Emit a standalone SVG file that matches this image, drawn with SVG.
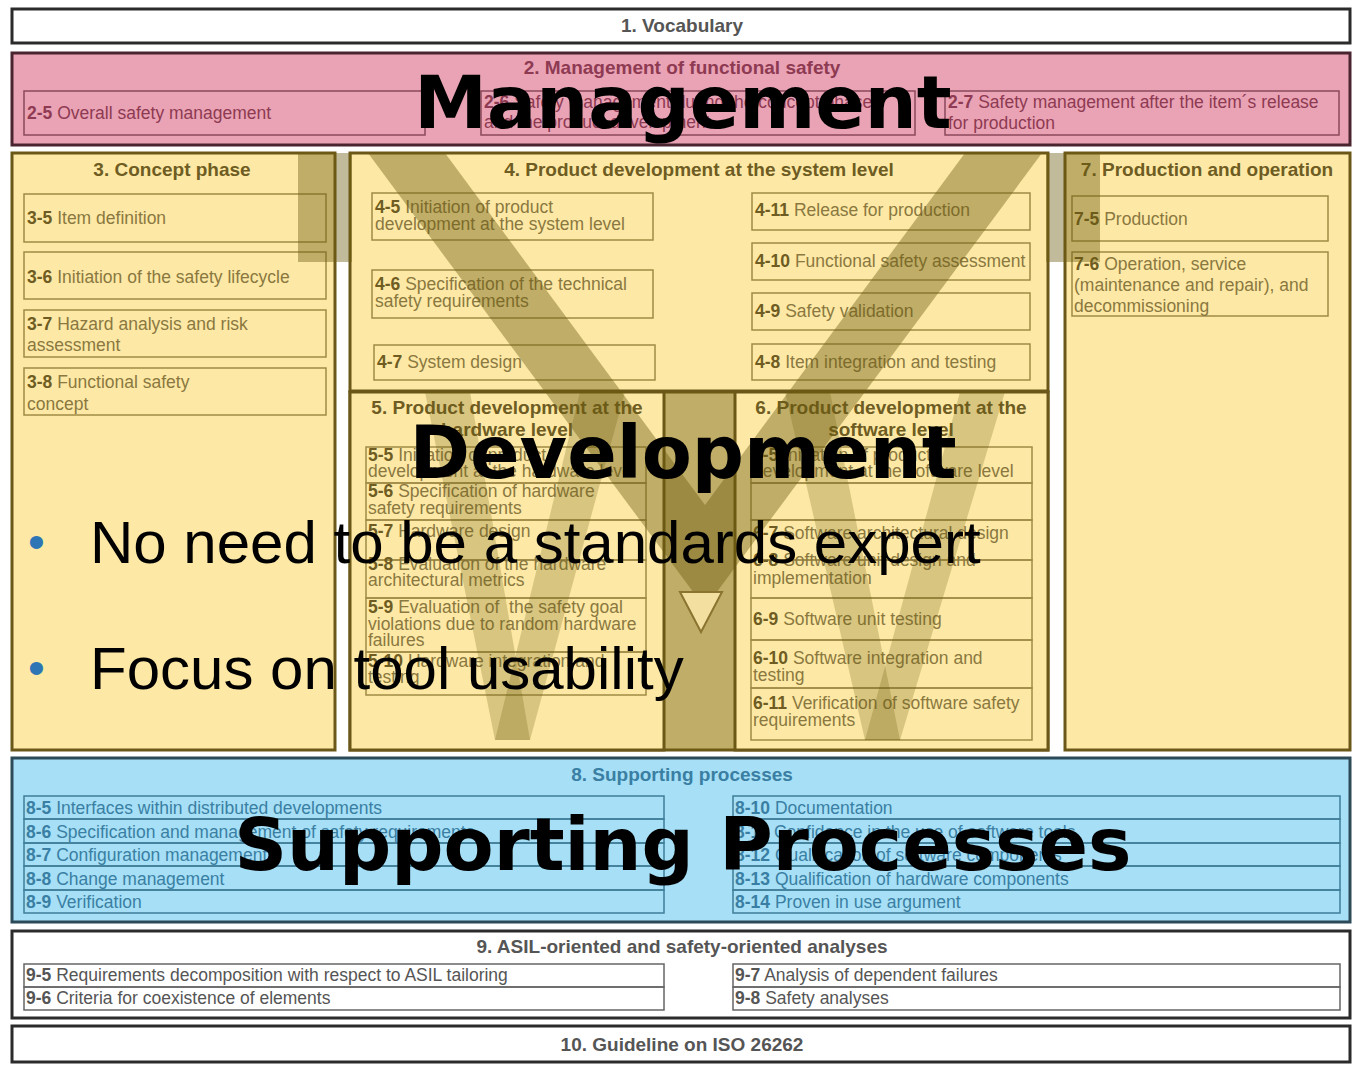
<svg xmlns="http://www.w3.org/2000/svg" width="1355" height="1066" viewBox="0 0 1355 1066">
<style>
.t{font-family:"Liberation Sans",Arial,sans-serif;font-weight:bold;font-size:19px;text-anchor:middle}
.l{font-family:"Liberation Sans",Arial,sans-serif;font-size:17.5px}
.b{font-weight:bold}
.mg{fill:#8e3a52}
.ye{fill:#8a7840}
.yb{fill:#6e5c22}
.bl{fill:#3a7fa3}
.wh{fill:#555}
.boxw{fill:#fff;stroke:#2b2b2b;stroke-width:3}
.boxm{fill:#e9a3b5;stroke:#4a2530;stroke-width:3}
.boxy{fill:#fde9a5;stroke:#6b5818;stroke-width:3}
.boxb{fill:#a6dff6;stroke:#2c4a58;stroke-width:3}
.sm{fill:none;stroke:#8c4a5c;stroke-width:1.5}
.sy{fill:none;stroke:#a08b45;stroke-width:1.5}
.sb{fill:none;stroke:#3f7d98;stroke-width:1.5}
.sw{fill:none;stroke:#666;stroke-width:1.5}
.ov{fill:#6b5a10;opacity:0.42}
.ow{fill:#6b5a10;opacity:0.25}
.big{font-family:"DejaVu Sans",Verdana,sans-serif;font-weight:bold;font-size:73px;fill:#000;text-anchor:middle}
.bul{font-family:"Liberation Sans",Arial,sans-serif;font-size:60px;fill:#000}
.dot{font-family:"Liberation Sans",Arial,sans-serif;font-size:48px;fill:#2e75b6}
</style>
<rect width="1355" height="1066" fill="#fff"/>

<g id="vocabulary">
<rect class="boxw" x="12" y="9" width="1338" height="34"/>
<text class="t wh" x="682" y="32">1. Vocabulary</text>
</g>

<g id="management">
<rect class="boxm" x="12" y="53" width="1338" height="92"/>
<text class="t mg" x="682" y="74">2. Management of functional safety</text>
<rect class="sm" x="24" y="91" width="401" height="44"/>
<text class="l mg" x="27" y="119"><tspan class="b">2-5</tspan> Overall safety management</text>
<rect class="sm" x="481" y="91" width="434" height="44"/>
<text class="l mg" x="484" y="108"><tspan class="b">2-6</tspan> Safety management during the concept phase</text>
<text class="l mg" x="484" y="128">and the product development</text>
<rect class="sm" x="945" y="91" width="394" height="44"/>
<text class="l mg" x="948" y="108"><tspan class="b">2-7</tspan> Safety management after the item´s release</text>
<text class="l mg" x="948" y="129">for production</text>
</g>

<g id="concept">
<rect class="boxy" x="12" y="153" width="323" height="597"/>
<text class="t yb" x="172" y="176">3. Concept phase</text>
<rect class="sy" x="24" y="194" width="302" height="48"/>
<text class="l ye" x="27" y="224"><tspan class="b yb">3-5</tspan> Item definition</text>
<rect class="sy" x="24" y="252" width="302" height="47"/>
<text class="l ye" x="27" y="283"><tspan class="b yb">3-6</tspan> Initiation of the safety lifecycle</text>
<rect class="sy" x="24" y="310" width="302" height="47"/>
<text class="l ye" x="27" y="330"><tspan class="b yb">3-7</tspan> Hazard analysis and risk</text>
<text class="l ye" x="27" y="351">assessment</text>
<rect class="sy" x="24" y="368" width="302" height="47"/>
<text class="l ye" x="27" y="388"><tspan class="b yb">3-8</tspan> Functional safety</text>
<text class="l ye" x="27" y="410">concept</text>
</g>

<g id="system">
<rect class="boxy" x="350" y="153" width="698" height="238"/>
<text class="t yb" x="699" y="176">4. Product development at the system level</text>
<rect class="sy" x="372" y="193" width="281" height="47"/>
<text class="l ye" x="375" y="213"><tspan class="b yb">4-5</tspan> Initiation of product</text>
<text class="l ye" x="375" y="230">development at the system level</text>
<rect class="sy" x="372" y="270" width="281" height="48"/>
<text class="l ye" x="375" y="290"><tspan class="b yb">4-6</tspan> Specification of the technical</text>
<text class="l ye" x="375" y="307">safety requirements</text>
<rect class="sy" x="374" y="345" width="281" height="35"/>
<text class="l ye" x="377" y="368"><tspan class="b yb">4-7</tspan> System design</text>
<rect class="sy" x="752" y="193" width="278" height="37"/>
<text class="l ye" x="755" y="216"><tspan class="b yb">4-11</tspan> Release for production</text>
<rect class="sy" x="752" y="243" width="278" height="37"/>
<text class="l ye" x="755" y="267"><tspan class="b yb">4-10</tspan> Functional safety assessment</text>
<rect class="sy" x="752" y="293" width="278" height="37"/>
<text class="l ye" x="755" y="317"><tspan class="b yb">4-9</tspan> Safety validation</text>
<rect class="sy" x="752" y="344" width="278" height="36"/>
<text class="l ye" x="755" y="368"><tspan class="b yb">4-8</tspan> Item integration and testing</text>
</g>

<g id="lower-frame">
<rect class="boxy" x="350" y="392" width="698" height="358"/>
</g>

<g id="hardware">
<rect class="boxy" x="350" y="392" width="314" height="358"/>
<text class="t yb" x="507" y="414">5. Product development at the</text>
<text class="t yb" x="507" y="436">hardware level</text>
<rect class="sy" x="366" y="447" width="280" height="36"/>
<text class="l ye" x="368" y="461"><tspan class="b yb">5-5</tspan> Initiation of product</text>
<text class="l ye" x="368" y="477">development at the hardware level</text>
<rect class="sy" x="366" y="483" width="280" height="37"/>
<text class="l ye" x="368" y="497"><tspan class="b yb">5-6</tspan> Specification of hardware</text>
<text class="l ye" x="368" y="514">safety requirements</text>
<rect class="sy" x="366" y="520" width="280" height="40"/>
<text class="l ye" x="368" y="537"><tspan class="b yb">5-7</tspan> Hardware design</text>
<rect class="sy" x="366" y="560" width="280" height="38"/>
<text class="l ye" x="368" y="570"><tspan class="b yb">5-8</tspan> Evaluation of the hardware</text>
<text class="l ye" x="368" y="586">architectural metrics</text>
<rect class="sy" x="366" y="598" width="280" height="54"/>
<text class="l ye" x="368" y="613" xml:space="preserve"><tspan class="b yb">5-9</tspan> Evaluation of  the safety goal</text>
<text class="l ye" x="368" y="630">violations due to random hardware</text>
<text class="l ye" x="368" y="646">failures</text>
<rect class="sy" x="366" y="652" width="280" height="43"/>
<text class="l ye" x="368" y="667"><tspan class="b yb">5-10</tspan> Hardware integration and</text>
<text class="l ye" x="368" y="683">testing</text>
</g>

<g id="software">
<rect class="boxy" x="735" y="392" width="313" height="358"/>
<text class="t yb" x="891" y="414">6. Product development at the</text>
<text class="t yb" x="891" y="436">software level</text>
<rect class="sy" x="751" y="447" width="281" height="36"/>
<text class="l ye" x="753" y="461"><tspan class="b yb">6-5</tspan> Initiation of product</text>
<text class="l ye" x="753" y="477">development at the software level</text>
<rect class="sy" x="751" y="483" width="281" height="37"/>
<rect class="sy" x="751" y="520" width="281" height="40"/>
<text class="l ye" x="753" y="539"><tspan class="b yb">6-7</tspan> Software architectural design</text>
<rect class="sy" x="751" y="560" width="281" height="38"/>
<text class="l ye" x="753" y="566"><tspan class="b yb">6-8</tspan> Software unit design and</text>
<text class="l ye" x="753" y="584">implementation</text>
<rect class="sy" x="751" y="598" width="281" height="42"/>
<text class="l ye" x="753" y="625"><tspan class="b yb">6-9</tspan> Software unit testing</text>
<rect class="sy" x="751" y="640" width="281" height="48"/>
<text class="l ye" x="753" y="664"><tspan class="b yb">6-10</tspan> Software integration and</text>
<text class="l ye" x="753" y="681">testing</text>
<rect class="sy" x="751" y="688" width="281" height="52"/>
<text class="l ye" x="753" y="709"><tspan class="b yb">6-11</tspan> Verification of software safety</text>
<text class="l ye" x="753" y="726">requirements</text>
</g>

<g id="production">
<rect class="boxy" x="1065" y="153" width="285" height="597"/>
<text class="t yb" x="1207" y="176">7. Production and operation</text>
<rect class="sy" x="1072" y="196" width="256" height="45"/>
<text class="l ye" x="1074" y="225"><tspan class="b yb">7-5</tspan> Production</text>
<rect class="sy" x="1072" y="252" width="256" height="64"/>
<text class="l ye" x="1074" y="270"><tspan class="b yb">7-6</tspan> Operation, service</text>
<text class="l ye" x="1074" y="291">(maintenance and repair), and</text>
<text class="l ye" x="1074" y="312">decommissioning</text>
</g>

<g id="supporting">
<rect class="boxb" x="12" y="758" width="1338" height="164"/>
<text class="t bl" x="682" y="781">8. Supporting processes</text>
<rect class="sb" x="24" y="796" width="640" height="23"/>
<rect class="sb" x="24" y="819" width="640" height="24"/>
<rect class="sb" x="24" y="843" width="640" height="23"/>
<rect class="sb" x="24" y="866" width="640" height="24"/>
<rect class="sb" x="24" y="890" width="640" height="23"/>
<text class="l bl" x="26" y="814"><tspan class="b">8-5</tspan> Interfaces within distributed developments</text>
<text class="l bl" x="26" y="838"><tspan class="b">8-6</tspan> Specification and management of safety requirements</text>
<text class="l bl" x="26" y="861"><tspan class="b">8-7</tspan> Configuration management</text>
<text class="l bl" x="26" y="885"><tspan class="b">8-8</tspan> Change management</text>
<text class="l bl" x="26" y="908"><tspan class="b">8-9</tspan> Verification</text>
<rect class="sb" x="733" y="796" width="607" height="23"/>
<rect class="sb" x="733" y="819" width="607" height="24"/>
<rect class="sb" x="733" y="843" width="607" height="23"/>
<rect class="sb" x="733" y="866" width="607" height="24"/>
<rect class="sb" x="733" y="890" width="607" height="23"/>
<text class="l bl" x="735" y="814"><tspan class="b">8-10</tspan> Documentation</text>
<text class="l bl" x="735" y="838"><tspan class="b">8-11</tspan> Confidence in the use of software tools</text>
<text class="l bl" x="735" y="861"><tspan class="b">8-12</tspan> Qualification of software components</text>
<text class="l bl" x="735" y="885"><tspan class="b">8-13</tspan> Qualification of hardware components</text>
<text class="l bl" x="735" y="908"><tspan class="b">8-14</tspan> Proven in use argument</text>
</g>

<g id="analyses">
<rect class="boxw" x="12" y="931" width="1338" height="87"/>
<text class="t wh" x="682" y="953">9. ASIL-oriented and safety-oriented analyses</text>
<rect class="sw" x="24" y="964" width="640" height="23"/>
<rect class="sw" x="24" y="987" width="640" height="23"/>
<rect class="sw" x="733" y="964" width="607" height="23"/>
<rect class="sw" x="733" y="987" width="607" height="23"/>
<text class="l wh" x="26" y="981"><tspan class="b">9-5</tspan> Requirements decomposition with respect to ASIL tailoring</text>
<text class="l wh" x="26" y="1004"><tspan class="b">9-6</tspan> Criteria for coexistence of elements</text>
<text class="l wh" x="735" y="981"><tspan class="b">9-7</tspan> Analysis of dependent failures</text>
<text class="l wh" x="735" y="1004"><tspan class="b">9-8</tspan> Safety analyses</text>
</g>

<g id="guideline">
<rect class="boxw" x="12" y="1026" width="1338" height="36"/>
<text class="t wh" x="682" y="1051">10. Guideline on ISO 26262</text>
</g>

<g id="v-watermark">
<rect class="ov" x="298" y="153" width="54" height="109"/>
<rect class="ov" x="1046" y="153" width="54" height="109"/>
<polygon class="ov" points="368,153 445,153 705,505 705,608"/>
<polygon class="ov" points="1042,153 965,153 705,505 705,608"/>
<polygon class="ow" points="425,392 470,392 530,740 495,740"/>
<polygon class="ow" points="580,392 625,392 530,740 495,740"/>
<polygon class="ow" points="785,392 830,392 900,740 865,740"/>
<polygon class="ow" points="960,392 1005,392 900,740 865,740"/>
<rect class="ov" x="664" y="392" width="71" height="358"/>
<polygon points="680,592 722,592 701,632" fill="#f3dfa0" stroke="#8a7430" stroke-width="2"/>
</g>

<g id="overlay-text">
<text class="big" x="683" y="128">Management</text>
<text class="big" x="683" y="478">Development</text>
<text class="big" x="683" y="870">Supporting Processes</text>
<text class="dot" x="28" y="558">•</text>
<text class="bul" x="90" y="563">No need to be a standards expert</text>
<text class="dot" x="28" y="684">•</text>
<text class="bul" x="90" y="689">Focus on tool usability</text>
</g>
</svg>
